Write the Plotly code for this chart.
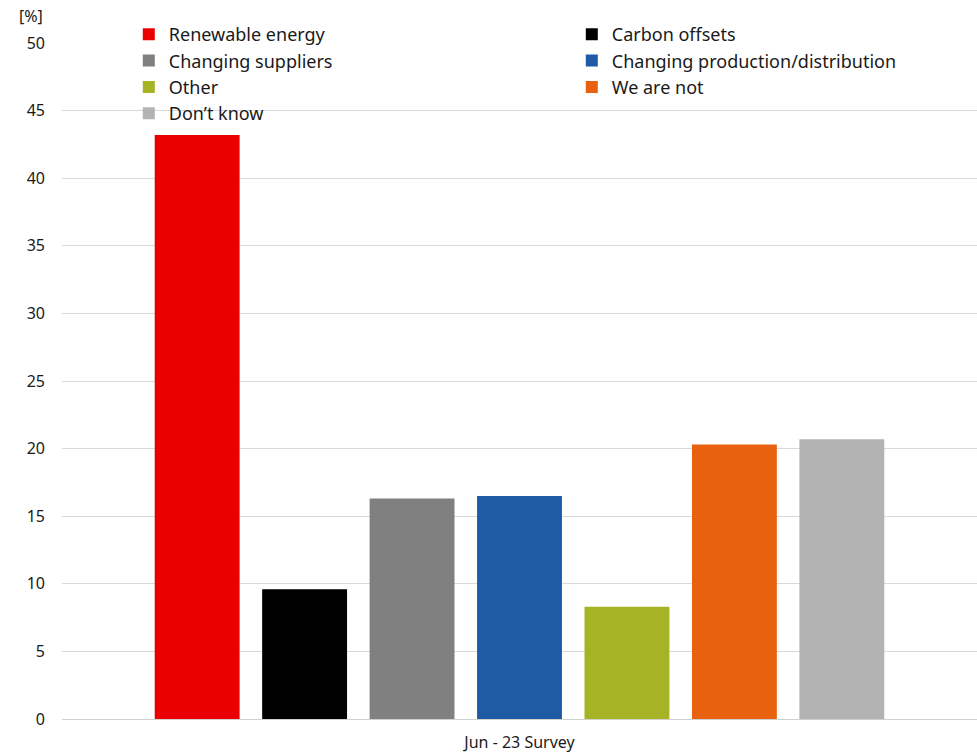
import plotly.graph_objects as go

# Survey responses (share of respondents, %)
category = ["Jun - 23 Survey"]
measures = [
    "Renewable energy",
    "Carbon offsets",
    "Changing suppliers",
    "Changing production/distribution",
    "Other",
    "We are not",
    "Don\u2019t know",
]
shares = [43.2, 9.6, 16.3, 16.5, 8.3, 20.3, 20.7]
colors = ["#eb0000", "#000000", "#808080", "#1f5aa4", "#a5b325", "#e8610f", "#b3b3b3"]

FONT = "Noto Sans"
TEXT = "#1a1a1a"

fig = go.Figure()
for name, val, col in zip(measures, shares, colors):
    fig.add_trace(go.Bar(
        x=category, y=[val], name=name,
        marker=dict(color=col, line=dict(width=0)),
        hovertemplate="%{y:.1f}%<extra>" + name + "</extra>",
    ))

fig.update_layout(
    width=977, height=752,
    margin=dict(l=62, r=0, t=43, b=33, autoexpand=False),
    paper_bgcolor="white", plot_bgcolor="white",
    barmode="group", bargap=0.178, bargroupgap=0.21,
    font=dict(family=FONT, size=16, color=TEXT),
    legend=dict(
        orientation="h", x=0.073, xanchor="left", y=1.04, yanchor="top",
        entrywidth=398, entrywidthmode="pixels",
        font=dict(family=FONT, size=18, color=TEXT),
        bgcolor="rgba(0,0,0,0)", tracegroupgap=0, itemwidth=30,
    ),
    xaxis=dict(
        type="category", showgrid=False, showline=False, ticks="",
        ticklabelstandoff=12,
        tickfont=dict(family=FONT, size=16, color=TEXT),
    ),
    yaxis=dict(
        range=[0, 50], dtick=5, showgrid=True, gridcolor="#d9d9d9", gridwidth=1,
        zeroline=True, zerolinecolor="#d0d0d0", zerolinewidth=1,
        showline=False, ticks="", ticklen=0, ticklabelstandoff=16,
        tickfont=dict(family=FONT, size=16, color=TEXT),
    ),
    annotations=[dict(
        text="[%]", xref="paper", yref="paper", x=-0.034, y=1.0,
        xanchor="center", yanchor="bottom", yshift=14, showarrow=False,
        font=dict(family=FONT, size=16, color=TEXT),
    )],
)

fig.write_html("out.html")
